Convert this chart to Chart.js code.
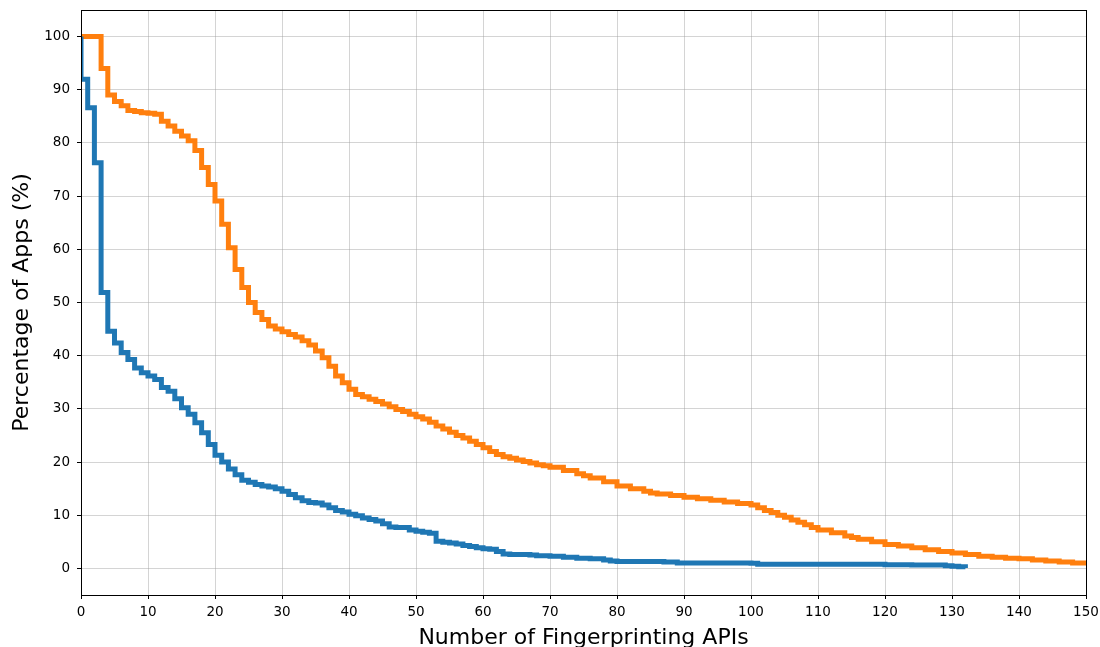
<!DOCTYPE html>
<html>
<head>
<meta charset="utf-8">
<script src="https://cdn.jsdelivr.net/npm/chart.js@4.4.1/dist/chart.umd.min.js"></script>
<style>
  html, body { margin: 0; padding: 0; background: #fff; }
  #wrap { width: 1100px; height: 647px; position: relative; }
</style>
</head>
<body>
<div id="wrap"><canvas id="c" width="1100" height="647"></canvas></div>
<script>
// ---- data ----
const xTicks = [0,10,20,30,40,50,60,70,80,90,100,110,120,130,140,150];
const yTicks = [0,10,20,30,40,50,60,70,80,90,100];

const blueX = [0,0,1,2,3,4,5,6,7,8,9,10,11,12,13,14,15,16,17,18,19,20,21,22,23,24,25,26,27,28,29,30,31,32,33,34,35,36,37,38,39,40,41,42,43,44,45,46,47,48,49,50,51,52,53,54,55,56,57,58,59,60,61,62,63,64,65,66,67,68,69,70,72,74,76,78,79,80,85,87,89,100,101,120,124,129,130,131,132];
const blueY = [100,92,86.6,76.3,51.9,44.6,42.4,40.6,39.3,37.7,36.8,36.2,35.5,34.0,33.3,31.9,30.2,29.0,27.4,25.5,23.3,21.3,20.0,18.7,17.6,16.6,16.2,15.8,15.5,15.3,15.0,14.5,13.9,13.3,12.7,12.4,12.3,11.9,11.4,10.9,10.6,10.2,9.9,9.5,9.2,8.9,8.4,7.8,7.7,7.7,7.2,7.0,6.8,6.6,5.1,4.9,4.8,4.6,4.3,4.1,3.9,3.7,3.6,3.2,2.7,2.6,2.6,2.6,2.5,2.4,2.4,2.3,2.1,1.9,1.8,1.6,1.4,1.3,1.3,1.2,1.0,0.95,0.8,0.7,0.65,0.5,0.4,0.3,0.1];

const orangeX = [0,3,4,5,6,7,8,9,10,11,12,13,14,15,16,17,18,19,20,21,22,23,24,25,26,27,28,29,30,31,32,33,34,35,36,37,38,39,40,41,42,43,44,45,46,47,48,49,50,51,52,53,54,55,56,57,58,59,60,61,62,63,64,65,66,67,68,69,70,72,74,75,76,78,80,82,84,85,86,88,90,92,94,96,98,100,101,102,103,104,105,106,107,108,109,110,112,114,115,116,118,120,122,124,126,128,130,132,134,136,138,140,142,144,146,148,150];
const orangeY = [100,94.0,89.0,87.8,87.0,86.1,85.9,85.7,85.6,85.4,84.1,83.2,82.2,81.3,80.4,78.6,75.4,72.2,69.1,64.7,60.3,56.2,52.8,50.0,48.1,46.8,45.6,45.0,44.5,44.0,43.5,42.8,42.0,40.9,39.6,38.0,36.2,34.9,33.7,32.7,32.3,31.8,31.4,30.9,30.4,29.9,29.5,29.0,28.5,28.1,27.5,26.8,26.2,25.6,25.0,24.5,23.9,23.3,22.7,22.0,21.4,21.0,20.7,20.4,20.1,19.8,19.5,19.3,19.0,18.4,17.8,17.4,17.0,16.3,15.5,15.0,14.5,14.2,14.0,13.7,13.4,13.1,12.8,12.5,12.2,11.9,11.4,10.9,10.5,10.0,9.6,9.1,8.7,8.2,7.7,7.2,6.7,6.1,5.8,5.5,5.0,4.5,4.2,3.9,3.5,3.2,2.9,2.6,2.3,2.1,1.9,1.8,1.6,1.4,1.2,1.0,0.9];

const toPts = (xs, ys) => xs.map((x, i) => ({x: x, y: ys[i]}));

const frame = {
  id: 'frame',
  afterDraw(chart) {
    const a = chart.chartArea, ctx = chart.ctx;
    ctx.save();
    ctx.strokeStyle = '#000';
    ctx.lineWidth = 1;
    ctx.strokeRect(Math.round(a.left) + 0.5, Math.round(a.top) + 0.5,
                   Math.round(a.right - a.left), Math.round(a.bottom - a.top));
    ctx.restore();
  }
};

const tickFont = {family: 'DejaVu Sans', size: 13.5};
const titleFont = {family: 'DejaVu Sans', size: 22};

new Chart(document.getElementById('c'), {
  type: 'line',
  data: {
    datasets: [
      {data: toPts(blueX, blueY), borderColor: '#1f77b4', borderWidth: 5, stepped: 'before',
       pointRadius: 0, fill: false, borderJoinStyle: 'miter', borderCapStyle: 'butt'},
      {data: toPts(orangeX, orangeY), borderColor: '#ff7f0e', borderWidth: 5, stepped: 'before',
       pointRadius: 0, fill: false, borderJoinStyle: 'miter', borderCapStyle: 'butt'}
    ]
  },
  options: {
    responsive: false,
    animation: false,
    events: [],
    layout: {padding: {top: 10, right: 14, left: 0, bottom: 0}},
    plugins: {legend: {display: false}, tooltip: {enabled: false}},
    scales: {
      x: {
        type: 'linear', min: 0, max: 150,
        afterBuildTicks: s => { s.ticks = xTicks.map(v => ({value: v})); },
        afterFit: s => { s.height = 52; s.paddingLeft = 0; s.paddingRight = 0; },
        ticks: {color: '#000', font: tickFont, padding: 5, maxRotation: 0, autoSkip: false},
        grid: {color: 'rgba(160,160,160,0.45)', lineWidth: 1, tickColor: '#000', tickLength: 4},
        border: {color: '#000', width: 1},
        title: {display: true, text: 'Number of Fingerprinting APIs', color: '#000', font: titleFont,
                padding: {top: 0, bottom: -4}}
      },
      y: {
        type: 'linear', min: -5, max: 105,
        afterBuildTicks: s => { s.ticks = yTicks.map(v => ({value: v})); },
        afterFit: s => { s.width = 81; s.paddingTop = 0; s.paddingBottom = 0; },
        ticks: {color: '#000', font: tickFont, padding: 7, autoSkip: false},
        grid: {color: 'rgba(160,160,160,0.45)', lineWidth: 1, tickColor: '#000', tickLength: 4},
        border: {color: '#000', width: 1},
        title: {display: true, text: 'Percentage of Apps (%)', color: '#000', font: titleFont,
                padding: {top: 9, bottom: 0}}
      }
    }
  },
  plugins: [frame]
});
</script>
</body>
</html>
